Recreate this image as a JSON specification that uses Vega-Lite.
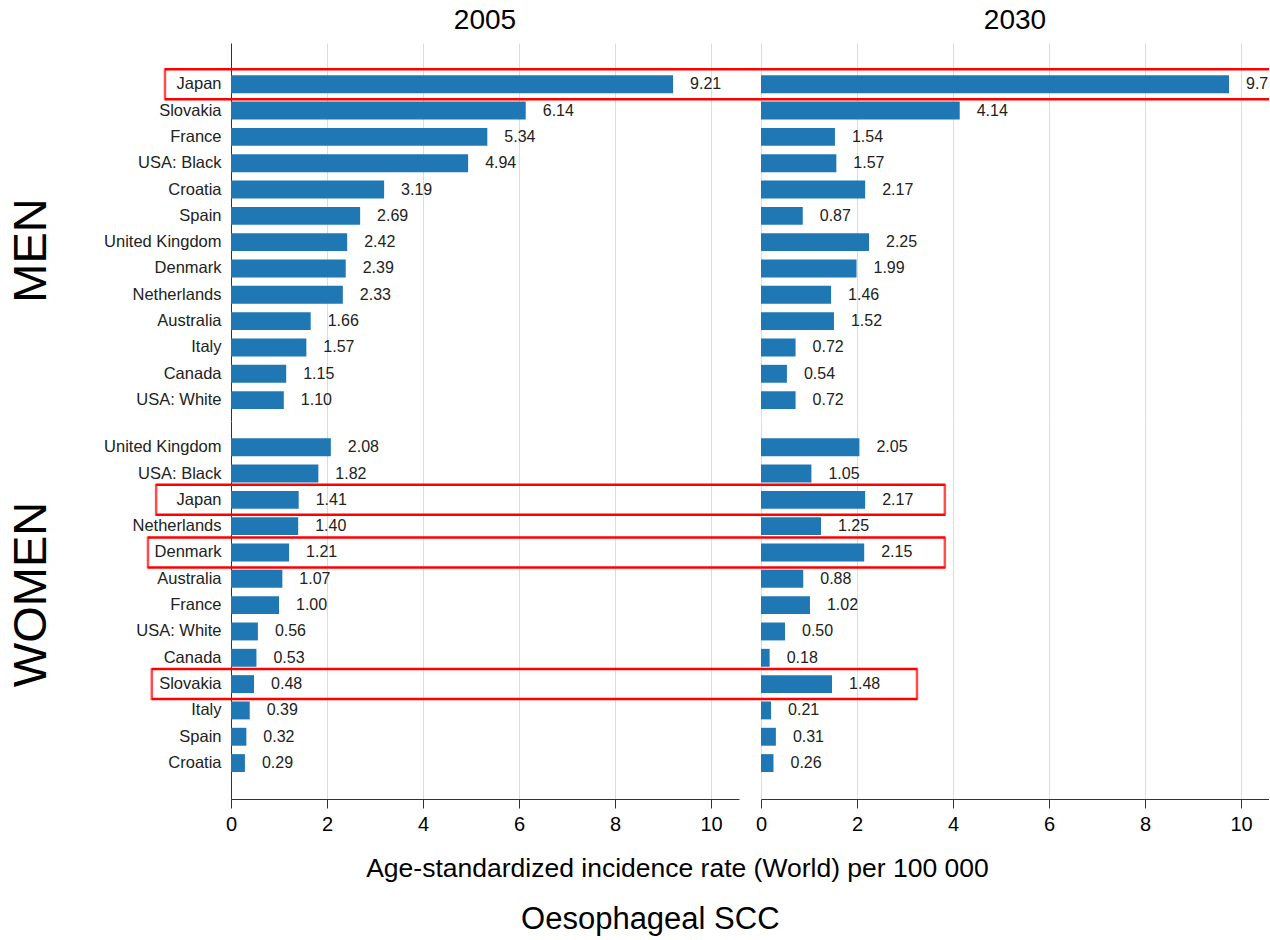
{
  "$schema": "https://vega.github.io/schema/vega-lite/v6.json",
  "padding": {"left": 7, "top": 7, "right": 0, "bottom": 5},
  "config": {"font": "Liberation Sans", "view": {"stroke": null}},
  "datasets": {
    "rates": [
      {"sex": "MEN", "country": "Japan", "year": 2005, "value": 9.21},
      {"sex": "MEN", "country": "Slovakia", "year": 2005, "value": 6.14},
      {"sex": "MEN", "country": "France", "year": 2005, "value": 5.34},
      {"sex": "MEN", "country": "USA: Black", "year": 2005, "value": 4.94},
      {"sex": "MEN", "country": "Croatia", "year": 2005, "value": 3.19},
      {"sex": "MEN", "country": "Spain", "year": 2005, "value": 2.69},
      {"sex": "MEN", "country": "United Kingdom", "year": 2005, "value": 2.42},
      {"sex": "MEN", "country": "Denmark", "year": 2005, "value": 2.39},
      {"sex": "MEN", "country": "Netherlands", "year": 2005, "value": 2.33},
      {"sex": "MEN", "country": "Australia", "year": 2005, "value": 1.66},
      {"sex": "MEN", "country": "Italy", "year": 2005, "value": 1.57},
      {"sex": "MEN", "country": "Canada", "year": 2005, "value": 1.15},
      {"sex": "MEN", "country": "USA: White", "year": 2005, "value": 1.10},
      {"sex": "MEN", "country": "Japan", "year": 2030, "value": 9.75},
      {"sex": "MEN", "country": "Slovakia", "year": 2030, "value": 4.14},
      {"sex": "MEN", "country": "France", "year": 2030, "value": 1.54},
      {"sex": "MEN", "country": "USA: Black", "year": 2030, "value": 1.57},
      {"sex": "MEN", "country": "Croatia", "year": 2030, "value": 2.17},
      {"sex": "MEN", "country": "Spain", "year": 2030, "value": 0.87},
      {"sex": "MEN", "country": "United Kingdom", "year": 2030, "value": 2.25},
      {"sex": "MEN", "country": "Denmark", "year": 2030, "value": 1.99},
      {"sex": "MEN", "country": "Netherlands", "year": 2030, "value": 1.46},
      {"sex": "MEN", "country": "Australia", "year": 2030, "value": 1.52},
      {"sex": "MEN", "country": "Italy", "year": 2030, "value": 0.72},
      {"sex": "MEN", "country": "Canada", "year": 2030, "value": 0.54},
      {"sex": "MEN", "country": "USA: White", "year": 2030, "value": 0.72},
      {"sex": "WOMEN", "country": "United Kingdom", "year": 2005, "value": 2.08},
      {"sex": "WOMEN", "country": "USA: Black", "year": 2005, "value": 1.82},
      {"sex": "WOMEN", "country": "Japan", "year": 2005, "value": 1.41},
      {"sex": "WOMEN", "country": "Netherlands", "year": 2005, "value": 1.40},
      {"sex": "WOMEN", "country": "Denmark", "year": 2005, "value": 1.21},
      {"sex": "WOMEN", "country": "Australia", "year": 2005, "value": 1.07},
      {"sex": "WOMEN", "country": "France", "year": 2005, "value": 1.00},
      {"sex": "WOMEN", "country": "USA: White", "year": 2005, "value": 0.56},
      {"sex": "WOMEN", "country": "Canada", "year": 2005, "value": 0.53},
      {"sex": "WOMEN", "country": "Slovakia", "year": 2005, "value": 0.48},
      {"sex": "WOMEN", "country": "Italy", "year": 2005, "value": 0.39},
      {"sex": "WOMEN", "country": "Spain", "year": 2005, "value": 0.32},
      {"sex": "WOMEN", "country": "Croatia", "year": 2005, "value": 0.29},
      {"sex": "WOMEN", "country": "United Kingdom", "year": 2030, "value": 2.05},
      {"sex": "WOMEN", "country": "USA: Black", "year": 2030, "value": 1.05},
      {"sex": "WOMEN", "country": "Japan", "year": 2030, "value": 2.17},
      {"sex": "WOMEN", "country": "Netherlands", "year": 2030, "value": 1.25},
      {"sex": "WOMEN", "country": "Denmark", "year": 2030, "value": 2.15},
      {"sex": "WOMEN", "country": "Australia", "year": 2030, "value": 0.88},
      {"sex": "WOMEN", "country": "France", "year": 2030, "value": 1.02},
      {"sex": "WOMEN", "country": "USA: White", "year": 2030, "value": 0.50},
      {"sex": "WOMEN", "country": "Canada", "year": 2030, "value": 0.18},
      {"sex": "WOMEN", "country": "Slovakia", "year": 2030, "value": 1.48},
      {"sex": "WOMEN", "country": "Italy", "year": 2030, "value": 0.21},
      {"sex": "WOMEN", "country": "Spain", "year": 2030, "value": 0.31},
      {"sex": "WOMEN", "country": "Croatia", "year": 2030, "value": 0.26}
    ],
    "boxes": [
      {"sex": "MEN", "country": "Japan", "left": -1.375, "right": 11.5},
      {"sex": "WOMEN", "country": "Japan", "left": -1.56, "right": 3.83},
      {"sex": "WOMEN", "country": "Denmark", "left": -1.73, "right": 3.83},
      {"sex": "WOMEN", "country": "Slovakia", "left": -1.65, "right": 3.25}
    ]
  },
  "title": {"text": "Oesophageal SCC", "orient": "bottom", "fontSize": 31, "fontWeight": "normal", "color": "black", "anchor": "middle", "offset": 23, "dx": 12},
  "spacing": 0,
  "vconcat": [
    {
      "bounds": "flush",
      "spacing": 22,
      "hconcat": [
        {
          "width": 508, "height": 378,
          "title": {"text": "2005", "fontSize": 28, "fontWeight": "normal", "color": "black", "offset": 8},
          "encoding": {
            "y": {"field": "country", "type": "nominal",
              "scale": {"domain": ["Japan","Slovakia","France","USA: Black","Croatia","Spain","United Kingdom","Denmark","Netherlands","Australia","Italy","Canada","USA: White"], "paddingInner": 0.32, "paddingOuter": 0.84, "align": 0.73},
              "axis": {"title": "MEN", "titleFontSize": 47, "titleFontWeight": "normal", "titleColor": "black", "titlePadding": 48, "titleY": 207, "labelFontSize": 16.5, "labelColor": "#222", "ticks": false, "labelPadding": 10, "labelLimit": 0, "domainColor": "#333"}}
          },
          "layer": [
            {"data": {"name": "rates"}, "transform": [{"filter": "datum.sex === 'MEN' && datum.year === 2005"}],
             "mark": {"type": "bar", "color": "#1f77b4"},
             "encoding": {"x": {"field": "value", "type": "quantitative", "scale": {"domain": [0, 10.583], "nice": false},
               "axis": {"values": [0,2,4,6,8,10], "grid": true, "gridColor": "#dcdcdc", "labels": false, "ticks": false, "domain": false, "title": null}}}},
            {"data": {"name": "rates"}, "transform": [{"filter": "datum.sex === 'MEN' && datum.year === 2005"}],
             "mark": {"type": "text", "align": "left", "dx": 17, "fontSize": 16, "color": "#222"},
             "encoding": {"x": {"field": "value", "type": "quantitative"}, "text": {"field": "value", "format": ".2f"}}},
            {"data": {"name": "boxes"}, "transform": [{"filter": "datum.sex === 'MEN'"}],
             "mark": {"type": "rule", "color": "red", "strokeWidth": 2.5, "yOffset": -15},
             "encoding": {"x": {"field": "left", "type": "quantitative"}, "x2": {"datum": 11.04}}},
            {"data": {"name": "boxes"}, "transform": [{"filter": "datum.sex === 'MEN'"}],
             "mark": {"type": "rule", "color": "red", "strokeWidth": 2.5, "yOffset": 15},
             "encoding": {"x": {"field": "left", "type": "quantitative"}, "x2": {"datum": 11.04}}},
            {"data": {"name": "boxes"}, "transform": [{"filter": "datum.sex === 'MEN'"}],
             "mark": {"type": "tick", "color": "red", "thickness": 2.5, "size": 32, "orient": "vertical"},
             "encoding": {"x": {"field": "left", "type": "quantitative"}}}
          ]
        },
        {
          "width": 508, "height": 378,
          "title": {"text": "2030", "fontSize": 28, "fontWeight": "normal", "color": "black", "offset": 8},
          "encoding": {
            "y": {"field": "country", "type": "nominal",
              "scale": {"domain": ["Japan","Slovakia","France","USA: Black","Croatia","Spain","United Kingdom","Denmark","Netherlands","Australia","Italy","Canada","USA: White"], "paddingInner": 0.32, "paddingOuter": 0.84, "align": 0.73},
              "axis": null}
          },
          "layer": [
            {"data": {"name": "rates"}, "transform": [{"filter": "datum.sex === 'MEN' && datum.year === 2030"}],
             "mark": {"type": "bar", "color": "#1f77b4", "clip": true},
             "encoding": {"x": {"field": "value", "type": "quantitative", "scale": {"domain": [0, 10.583], "nice": false},
               "axis": {"values": [0,2,4,6,8,10], "grid": true, "gridColor": "#dcdcdc", "labels": false, "ticks": false, "domain": false, "title": null}}}},
            {"data": {"name": "rates"}, "transform": [{"filter": "datum.sex === 'MEN' && datum.year === 2030"}],
             "mark": {"type": "text", "align": "left", "dx": 17, "fontSize": 16, "color": "#222", "clip": true},
             "encoding": {"x": {"field": "value", "type": "quantitative"}, "text": {"field": "value", "format": ".2f"}}},
            {"data": {"name": "boxes"}, "transform": [{"filter": "datum.sex === 'MEN'"}],
             "mark": {"type": "rule", "color": "red", "strokeWidth": 2.5, "yOffset": -15, "clip": true},
             "encoding": {"x": {"field": "right", "type": "quantitative"}, "x2": {"datum": 0}}},
            {"data": {"name": "boxes"}, "transform": [{"filter": "datum.sex === 'MEN'"}],
             "mark": {"type": "rule", "color": "red", "strokeWidth": 2.5, "yOffset": 15, "clip": true},
             "encoding": {"x": {"field": "right", "type": "quantitative"}, "x2": {"datum": 0}}},
            {"data": {"name": "boxes"}, "transform": [{"filter": "datum.sex === 'MEN'"}],
             "mark": {"type": "tick", "color": "red", "thickness": 2.5, "size": 32, "orient": "vertical", "clip": true},
             "encoding": {"x": {"field": "right", "type": "quantitative"}}}
          ]
        }
      ]
    },
    {
      "bounds": "flush",
      "spacing": 22,
      "hconcat": [
        {
          "width": 508, "height": 378,
          "encoding": {
            "y": {"field": "country", "type": "nominal",
              "scale": {"domain": ["United Kingdom","USA: Black","Japan","Netherlands","Denmark","Australia","France","USA: White","Canada","Slovakia","Italy","Spain","Croatia"], "paddingInner": 0.32, "paddingOuter": 0.84, "align": 0.39},
              "axis": {"title": "WOMEN", "titleFontSize": 47, "titleFontWeight": "normal", "titleColor": "black", "titlePadding": 48, "titleY": 173, "labelFontSize": 16.5, "labelColor": "#222", "ticks": false, "labelPadding": 10, "labelLimit": 0, "domainColor": "#333"}}
          },
          "layer": [
            {"data": {"name": "rates"}, "transform": [{"filter": "datum.sex === 'WOMEN' && datum.year === 2005"}],
             "mark": {"type": "bar", "color": "#1f77b4"},
             "encoding": {"x": {"field": "value", "type": "quantitative", "scale": {"domain": [0, 10.583], "nice": false},
               "axis": {"values": [0,2,4,6,8,10], "grid": true, "gridColor": "#dcdcdc", "labelFlush": false, "domainColor": "#333", "tickColor": "#333", "tickSize": 9, "labelFontSize": 20, "labelColor": "black", "labelPadding": 6,
                 "title": "Age-standardized incidence rate (World) per 100 000", "titleFontSize": 26.5, "titleFontWeight": "normal", "titleColor": "black", "titleX": 446, "titleAlign": "center", "titlePadding": 21}}}},
            {"data": {"name": "rates"}, "transform": [{"filter": "datum.sex === 'WOMEN' && datum.year === 2005"}],
             "mark": {"type": "text", "align": "left", "dx": 17, "fontSize": 16, "color": "#222"},
             "encoding": {"x": {"field": "value", "type": "quantitative"}, "text": {"field": "value", "format": ".2f"}}},
            {"data": {"name": "boxes"}, "transform": [{"filter": "datum.sex === 'WOMEN'"}],
             "mark": {"type": "rule", "color": "red", "strokeWidth": 2.5, "yOffset": -15},
             "encoding": {"x": {"field": "left", "type": "quantitative"}, "x2": {"datum": 11.04}}},
            {"data": {"name": "boxes"}, "transform": [{"filter": "datum.sex === 'WOMEN'"}],
             "mark": {"type": "rule", "color": "red", "strokeWidth": 2.5, "yOffset": 15},
             "encoding": {"x": {"field": "left", "type": "quantitative"}, "x2": {"datum": 11.04}}},
            {"data": {"name": "boxes"}, "transform": [{"filter": "datum.sex === 'WOMEN'"}],
             "mark": {"type": "tick", "color": "red", "thickness": 2.5, "size": 32, "orient": "vertical"},
             "encoding": {"x": {"field": "left", "type": "quantitative"}}}
          ]
        },
        {
          "width": 508, "height": 378,
          "encoding": {
            "y": {"field": "country", "type": "nominal",
              "scale": {"domain": ["United Kingdom","USA: Black","Japan","Netherlands","Denmark","Australia","France","USA: White","Canada","Slovakia","Italy","Spain","Croatia"], "paddingInner": 0.32, "paddingOuter": 0.84, "align": 0.39},
              "axis": null}
          },
          "layer": [
            {"data": {"name": "rates"}, "transform": [{"filter": "datum.sex === 'WOMEN' && datum.year === 2030"}],
             "mark": {"type": "bar", "color": "#1f77b4"},
             "encoding": {"x": {"field": "value", "type": "quantitative", "scale": {"domain": [0, 10.583], "nice": false},
               "axis": {"values": [0,2,4,6,8,10], "grid": true, "gridColor": "#dcdcdc", "labelFlush": false, "domainColor": "#333", "tickColor": "#333", "tickSize": 9, "labelFontSize": 20, "labelColor": "black", "labelPadding": 6, "title": null}}}},
            {"data": {"name": "rates"}, "transform": [{"filter": "datum.sex === 'WOMEN' && datum.year === 2030"}],
             "mark": {"type": "text", "align": "left", "dx": 17, "fontSize": 16, "color": "#222"},
             "encoding": {"x": {"field": "value", "type": "quantitative"}, "text": {"field": "value", "format": ".2f"}}},
            {"data": {"name": "boxes"}, "transform": [{"filter": "datum.sex === 'WOMEN'"}],
             "mark": {"type": "rule", "color": "red", "strokeWidth": 2.5, "yOffset": -15, "clip": true},
             "encoding": {"x": {"field": "right", "type": "quantitative"}, "x2": {"datum": 0}}},
            {"data": {"name": "boxes"}, "transform": [{"filter": "datum.sex === 'WOMEN'"}],
             "mark": {"type": "rule", "color": "red", "strokeWidth": 2.5, "yOffset": 15, "clip": true},
             "encoding": {"x": {"field": "right", "type": "quantitative"}, "x2": {"datum": 0}}},
            {"data": {"name": "boxes"}, "transform": [{"filter": "datum.sex === 'WOMEN'"}],
             "mark": {"type": "tick", "color": "red", "thickness": 2.5, "size": 32, "orient": "vertical", "clip": true},
             "encoding": {"x": {"field": "right", "type": "quantitative"}}}
          ]
        }
      ]
    }
  ]
}
